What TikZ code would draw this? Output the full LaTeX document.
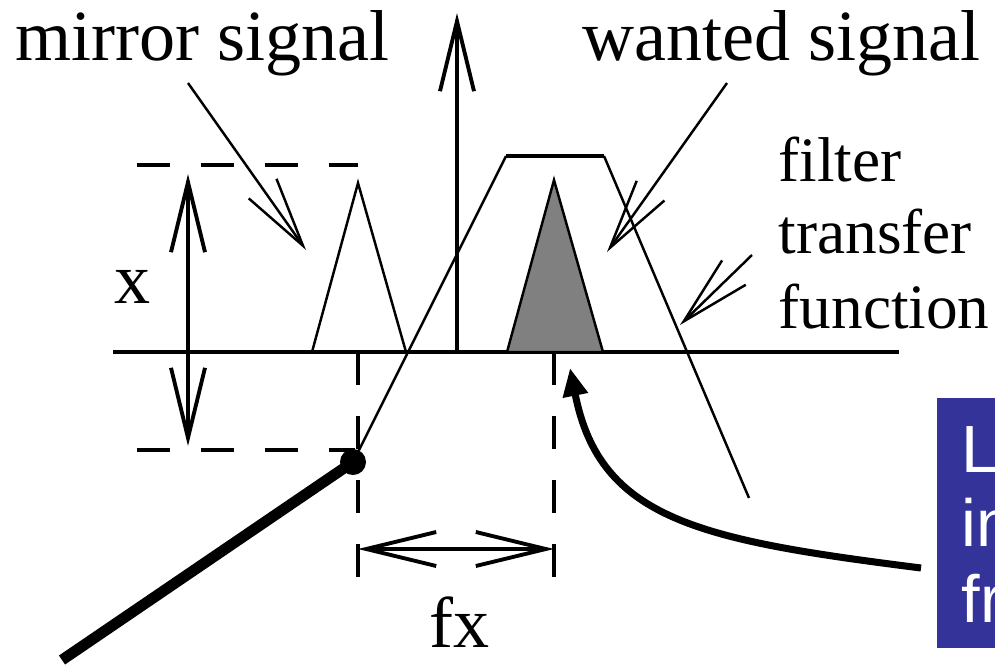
\documentclass[tikz,border=0pt]{standalone}
\usepackage{fontspec}
\setmainfont{Liberation Serif}
\newfontfamily\boxfont{Liberation Sans}
\usetikzlibrary{arrows.meta}
\definecolor{ifblue}{RGB}{51,51,153}
\definecolor{sigfill}{RGB}{128,128,128}
\begin{document}
\begin{tikzpicture}[x=0.1mm,y=-0.1mm,
	>={Straight Barb[length=7mm,width=3.4mm]},
	thinline/.style={line width=0.7pt},
	axisline/.style={line width=1.1pt},
	dashline/.style={line width=1.1pt,dash pattern=on 3.3mm off 3.1mm},
	sigtext/.style={font=\fontsize{20.5}{21}\selectfont,inner sep=0pt},
	filtext/.style={font=\fontsize{18}{21}\selectfont,inner sep=0pt,anchor=base west},
	boxtext/.style={font=\boxfont\fontsize{19}{21.3}\selectfont,inner sep=0pt,
		anchor=base west,text=white}]
	\useasboundingbox (0,0) rectangle (995,666);
	% labels
	\node[sigtext,anchor=base west] (mirror) at (15,60) {mirror signal};
	\node[sigtext,anchor=base west] (wanted) at (582,60) {wanted signal};
	\node[filtext] (filt1) at (778,181) {filter};
	\node[filtext] (filt2) at (778,253) {transfer};
	\node[filtext] (filt3) at (778,328) {function};
	\node[sigtext,anchor=base] (xlbl) at (133,303) {x};
	\node[sigtext,anchor=base] (fxlbl) at (460,647) {fx};
	% points
	\coordinate (axl) at (113,352);
	\coordinate (axr) at (899,352);
	\coordinate (o) at (457,352);
	\coordinate (otip) at (457,13);
	\coordinate (mtip) at (358,183);
	\coordinate (wtip) at (554,180);
	\coordinate (dot) at (353,462);
	% axes
	\draw[axisline] (axl) -- (axr);
	\draw[axisline,->] (o) -- (otip);
	% signals
	\draw[thinline] (312,352) -- (mtip) -- (406,352);
	\filldraw[thinline,fill=sigfill] (507,352) -- (wtip) -- (603,352) -- cycle;
	% filter
	\draw[thinline] (350,468) -- (506,156);
	\draw[axisline] (506,156) -- (604,156);
	\draw[thinline] (604,156) -- (749,498);
	% dashed box and marks
	\draw[dashline] (137,165) -- (mtip |- 0,165);
	\draw[dashline] (137,450) -- (355,450);
	\draw[dashline] (358,352) -- (358,584);
	\draw[dashline] (554,352) -- (554,584);
	\draw[axisline,<->] (188,174) -- (188,446);
	\draw[axisline,<->] (358,549) -- (554,549);
	% pointers
	\coordinate (mtail) at (188,83);
	\coordinate (mhead) at (306,250);
	\coordinate (wtail) at (727,83);
	\coordinate (whead) at (607,252);
	\coordinate (ftail) at (752,255);
	\coordinate (fhead) at (680,325);
	\draw[thinline,->] (mtail) -- (mhead);
	\draw[thinline,->] (wtail) -- (whead);
	\draw[thinline,->] (ftail) -- (fhead);
	% marker
	\coordinate (mstart) at (62,660);
	\draw[line width=3.1pt] (mstart) -- (dot);
	\fill (dot) circle[radius=1.3mm];
	% blue box
	\begin{scope}
		\clip (0,0) rectangle (995,666);
		\fill[ifblue] (937,398) rectangle (1010,648);
		\node[boxtext] (lo) at (961,472) {Lo};
		\node[boxtext] (in) at (961,546) {in};
		\node[boxtext] (fr) at (961,622) {fr};
	\end{scope}
	\coordinate (ifend) at (921,568);
	\coordinate (iftip) at (570,368);
	\draw[line width=2pt,-{Triangle[length=2.8mm,width=2.4mm]}]
		(ifend) .. controls (700,540) and (600,520) .. (iftip);
\end{tikzpicture}
\end{document}
